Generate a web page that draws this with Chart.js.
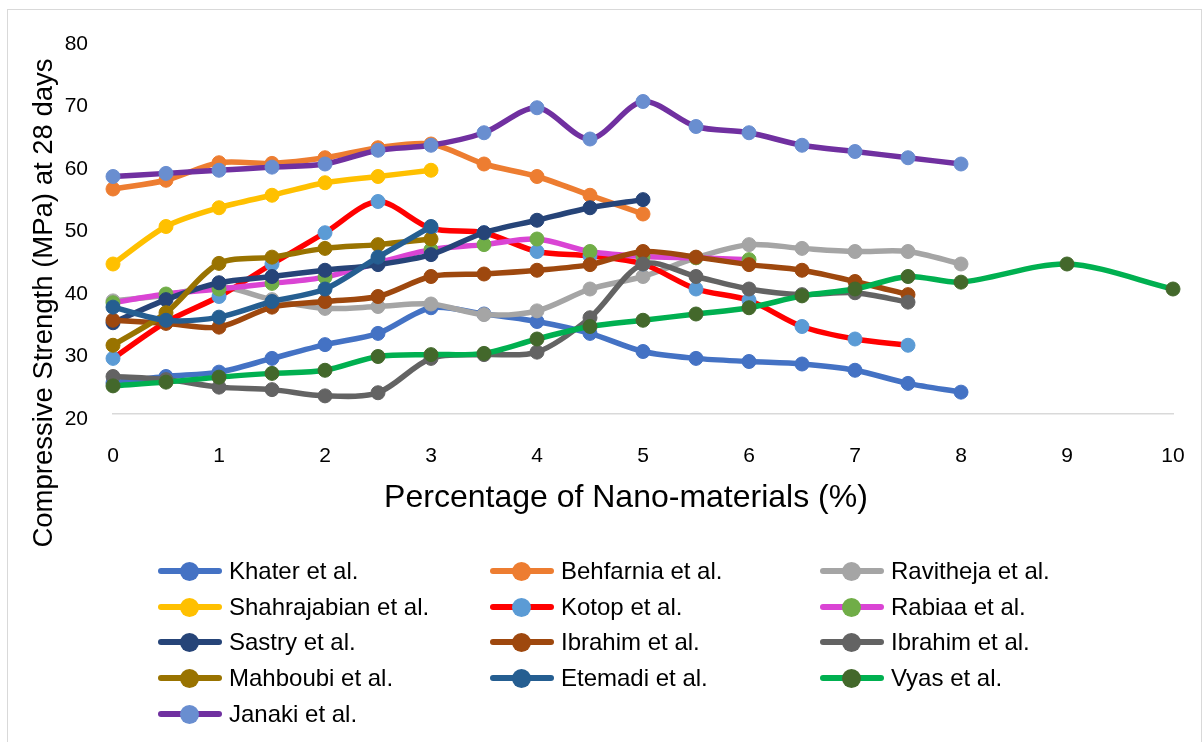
<!DOCTYPE html>
<html>
<head>
<meta charset="utf-8">
<script src="https://cdn.jsdelivr.net/npm/chart.js@4.4.1/dist/chart.umd.min.js"></script>
<style>
    html, body {
        margin: 0;
        padding: 0;
        width: 1203px;
        height: 742px;
        overflow: hidden;
        background: #fff;
        font-family: "Liberation Sans", Arial, sans-serif;
    }
    #frame {
        position: absolute;
        left: 7px;
        top: 9px;
        width: 1193px;
        height: 780px;
        border: 1px solid #d9d9d9;
    }
    #chart {
        position: absolute;
        left: 0;
        top: 0;
    }
    #legend {
        position: absolute;
        left: 158px;
        top: 553px;
        display: grid;
        grid-template-columns: 332px 330px 330px;
        grid-auto-rows: 35.7px;
    }
    .item {
        display: flex;
        align-items: center;
        font-size: 24px;
        color: #000;
        white-space: nowrap;
    }
    .mk {
        position: relative;
        width: 64px;
        height: 20px;
        margin-right: 7px;
        flex: none;
    }
    .mk .ln {
        position: absolute;
        left: 0;
        right: 0;
        top: 7px;
        height: 6px;
        border-radius: 3px;
    }
    .mk .dot {
        position: absolute;
        left: 22px;
        top: 1px;
        width: 19px;
        height: 19px;
        border-radius: 50%;
    }
</style>
</head>
<body>
<div id="frame"></div>
<canvas id="chart" width="1203" height="742"></canvas>
<div id="legend"></div>
<script>
// x positions (% nano-materials)
const xHalf = [0, 0.5, 1, 1.5, 2, 2.5, 3, 3.5, 4, 4.5, 5, 5.5, 6, 6.5, 7, 7.5, 8];
const xVyas = [0, 0.5, 1, 1.5, 2, 2.5, 3, 3.5, 4, 4.5, 5, 5.5, 6, 6.5, 7, 7.5, 8, 9, 10];

// compressive strength values (MPa)
const khater = [25.0, 26.0, 26.7, 28.9, 31.1, 32.9, 37.0, 36.0, 34.8, 32.9, 30.0, 28.9, 28.4, 28.0, 27.0, 24.9, 23.5];
const behfarnia = [56.0, 57.4, 60.2, 60.1, 61.0, 62.6, 63.2, 60.0, 58.0, 55.0, 52.0];
const ravitheja = [38.1, 39.0, 40.4, 38.3, 36.9, 37.2, 37.6, 35.9, 36.5, 40.0, 42.0, 45.0, 47.1, 46.5, 46.0, 46.0, 44.0];
const shahrajabian = [44.0, 50.0, 53.0, 55.0, 57.0, 58.0, 59.0];
const kotop = [28.9, 34.7, 38.8, 44.0, 49.0, 54.0, 49.7, 49.0, 46.0, 45.3, 44.0, 40.0, 38.2, 34.0, 32.0, 31.0];
const rabiaa = [37.8, 39.2, 40.0, 40.9, 41.9, 44.2, 46.3, 47.1, 48.0, 46.0, 45.2, 45.0, 44.7];
const sastry = [34.6, 38.3, 41.0, 42.0, 43.0, 43.9, 45.5, 49.0, 51.0, 53.0, 54.3];
const ibrahimA = [35.0, 34.5, 33.9, 37.1, 38.0, 38.8, 42.0, 42.4, 43.0, 43.9, 46.0, 45.1, 43.9, 43.0, 41.2, 39.1];
const ibrahimB = [26.0, 25.5, 24.3, 23.9, 22.9, 23.4, 28.9, 29.5, 29.9, 35.4, 44.0, 42.0, 40.0, 39.1, 39.4, 37.9];
const mahboubi = [31.0, 36.2, 44.1, 45.1, 46.5, 47.1, 48.0];
const etemadi = [37.1, 35.0, 35.5, 38.0, 40.0, 45.1, 50.0];
const vyas = [24.5, 25.1, 25.9, 26.5, 27.0, 29.2, 29.5, 29.7, 32.0, 34.0, 35.0, 36.0, 37.0, 38.9, 40.0, 42.0, 41.1, 44.0, 40.0];
const janaki = [58.0, 58.5, 59.0, 59.5, 60.0, 62.2, 63.0, 65.0, 69.0, 64.0, 70.0, 66.0, 65.0, 63.0, 62.0, 61.0, 60.0];

const seriesNames = ['Khater et al.', 'Behfarnia et al.', 'Ravitheja et al.', 'Shahrajabian et al.', 'Kotop et al.',
    'Rabiaa et al.', 'Sastry et al.', 'Ibrahim et al.', 'Ibrahim et al.', 'Mahboubi et al.', 'Etemadi et al.',
    'Vyas et al.', 'Janaki et al.'];
const seriesValues = [khater, behfarnia, ravitheja, shahrajabian, kotop, rabiaa, sastry, ibrahimA, ibrahimB,
    mahboubi, etemadi, vyas, janaki];
const seriesX = [xHalf, xHalf, xHalf, xHalf, xHalf, xHalf, xHalf, xHalf, xHalf, xHalf, xHalf, xVyas, xHalf];

const yTicks = [20, 30, 40, 50, 60, 70, 80];
const xTicks = [0, 1, 2, 3, 4, 5, 6, 7, 8, 9, 10];

const xTitle = 'Percentage of Nano-materials (%)';
const yTitle = 'Compressive Strength (MPa) at 28 days';

// styles
const lineColors = ['#4472C4', '#ED7D31', '#A5A5A5', '#FFC000', '#FF0000', '#DA44D4', '#264478', '#9E480E',
    '#636363', '#997300', '#255E91', '#00B050', '#7030A0'];
const markerColors = ['#4472C4', '#ED7D31', '#A5A5A5', '#FFC000', '#5B9BD5', '#70AD47', '#264478', '#9E480E',
    '#636363', '#997300', '#255E91', '#43682B', '#698ED0'];

const FONT = '"Liberation Sans", Arial, sans-serif';

// where the plot area sits in the original picture
const plotBox = { left: 113, right: 1173, top: 39, bottom: 414 };

const datasets = seriesNames.map((name, i) => ({
    label: name,
    data: seriesValues[i].map((v, j) => ({ x: seriesX[i][j], y: v })),
    borderColor: lineColors[i],
    backgroundColor: markerColors[i],
    pointBackgroundColor: markerColors[i],
    pointBorderColor: markerColors[i],
    pointBorderWidth: 1,
    pointRadius: 7,
    borderWidth: 5.5,
    tension: 0.3,
    clip: false,
    order: seriesNames.length - i   // later series on top, like the original
}));

// axis titles sit where the original has them (not centred on the plot area)
const axisTitlePlugin = {
    id: 'axisTitles',
    afterDraw(chart) {
        const ctx = chart.ctx;
        ctx.save();
        ctx.fillStyle = '#000';
        ctx.textAlign = 'center';
        ctx.textBaseline = 'middle';
        ctx.font = '32px ' + FONT;
        ctx.fillText(xTitle, 626, 498);
        ctx.translate(44, 303);
        ctx.rotate(-Math.PI / 2);
        ctx.font = '27.5px ' + FONT;
        ctx.fillText(yTitle, 0, 0);
        ctx.restore();
    }
};

const chart = new Chart(document.getElementById('chart'), {
    type: 'line',
    data: { datasets },
    plugins: [axisTitlePlugin],
    options: {
        responsive: false,
        animation: false,
        layout: {
            autoPadding: false,
            padding: { left: 0, top: plotBox.top, right: 1203 - plotBox.right, bottom: 202 }
        },
        plugins: {
            legend: { display: false },
            tooltip: { enabled: false }
        },
        scales: {
            x: {
                type: 'linear',
                min: 0,
                max: 10,
                afterFit: (scale) => {
                    scale.height = 126;
                    // the big tick padding should only push labels down, not squeeze the plot sideways
                    scale.paddingLeft = 0;
                    scale.paddingRight = 0;
                },
                afterBuildTicks: (scale) => { scale.ticks = xTicks.map(v => ({ value: v })); },
                grid: { display: false, drawTicks: false },
                border: { display: true, color: '#d9d9d9', width: 1.5 },
                ticks: {
                    padding: 30,
                    maxRotation: 0,
                    color: '#000',
                    font: { family: FONT, size: 21 }
                }
            },
            y: {
                min: 20,
                max: 80,
                afterFit: (scale) => { scale.width = plotBox.left; },
                afterBuildTicks: (scale) => { scale.ticks = yTicks.map(v => ({ value: v })); },
                grid: { display: false, drawTicks: false },
                border: { display: false },
                ticks: {
                    padding: 25,
                    labelOffset: 5,
                    color: '#000',
                    font: { family: FONT, size: 21 }
                }
            }
        }
    }
});

// nudge the layout padding so the plot area lands on the original's position
const area = chart.chartArea;
const pad = chart.options.layout.padding;
pad.right += area.right - plotBox.right;
pad.left += plotBox.left - area.left;
pad.top += plotBox.top - area.top;
pad.bottom += area.bottom - plotBox.bottom;
chart.update();

// legend laid out in three columns, like the original
const legend = document.getElementById('legend');
seriesNames.forEach((name, i) => {
    const item = document.createElement('div');
    item.className = 'item';
    item.innerHTML = '<span class="mk"><span class="ln" style="background:' + lineColors[i] + '"></span>' +
        '<span class="dot" style="background:' + markerColors[i] + '"></span></span>' +
        '<span>' + name + '</span>';
    legend.appendChild(item);
});
</script>
</body>
</html>
